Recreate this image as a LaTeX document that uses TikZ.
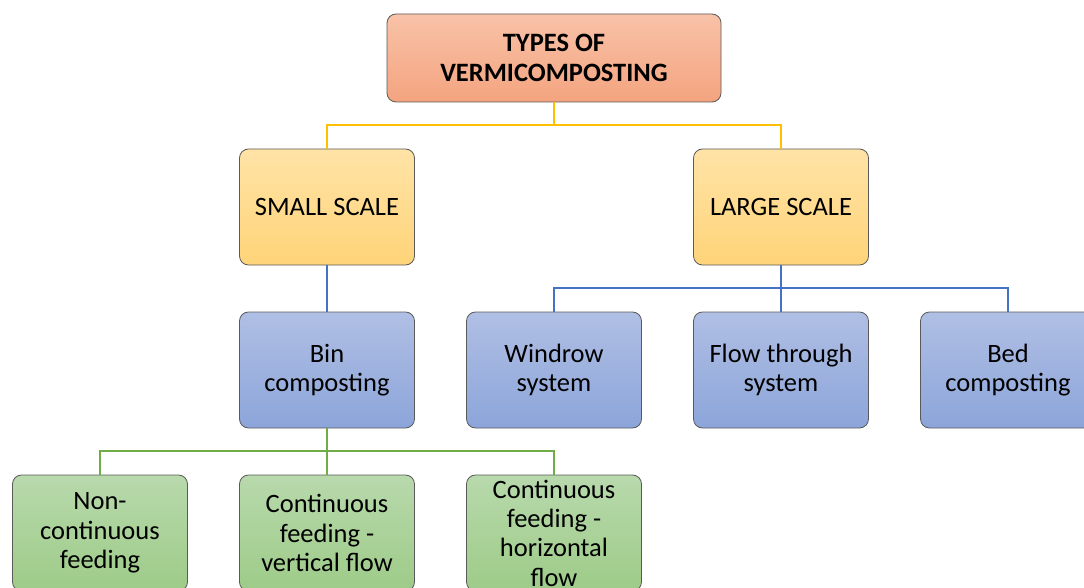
\documentclass[tikz,border=0pt]{standalone}
\usepackage{fontspec}
\setmainfont{Carlito}
\definecolor{topA}{HTML}{F8C2A8}
\definecolor{topB}{HTML}{F4A47F}
\definecolor{yelA}{HTML}{FFE3A6}
\definecolor{yelB}{HTML}{FFD479}
\definecolor{bluA}{HTML}{B0BFE4}
\definecolor{bluB}{HTML}{8CA5DA}
\definecolor{grnA}{HTML}{B8D9AC}
\definecolor{grnB}{HTML}{9DCB88}
\definecolor{edge}{HTML}{5A5A5A}
\definecolor{lnY}{HTML}{FFC000}
\definecolor{lnB}{HTML}{4472C4}
\definecolor{lnG}{HTML}{70AD47}
\tikzset{
  box/.style={rectangle, rounded corners=9pt, draw=edge, line width=0.8pt,
    minimum width=175pt, minimum height=116pt, inner sep=0pt, align=center,
    font=\fontsize{26.5}{29.3}\selectfont, text=black},
  topbox/.style={box, top color=topA, bottom color=topB, minimum width=334pt, minimum height=88pt,
    font=\fontsize{26.5}{29.3}\selectfont\bfseries},
  ybox/.style={box, top color=yelA, bottom color=yelB},
  bbox/.style={box, top color=bluA, bottom color=bluB},
  gbox/.style={box, top color=grnA, bottom color=grnB},
  conY/.style={draw=lnY, line width=2pt},
  conB/.style={draw=lnB, line width=2pt},
  conG/.style={draw=lnG, line width=2pt},
}
\begin{document}
\begin{tikzpicture}[x=1pt,y=-1pt]
\clip (0,0) rectangle (1084,588);
\fill[white] (0,0) rectangle (1084,588);
\node[topbox] (top) at (554,58) {TYPES OF\\VERMICOMPOSTING};
\node[ybox] (small) at (327,207) {SMALL SCALE};
\node[ybox] (large) at (781,207) {LARGE SCALE};
\node[bbox] (bin) at (327,370) {Bin\\composting};
\node[bbox] (wind) at (554,370) {Windrow\\system};
\node[bbox] (flow) at (781,370) {Flow through\\system};
\node[bbox] (bed) at (1008,370) {Bed\\composting};
\node[gbox] (non) at (100,533) {Non-\\continuous\\feeding};
\node[gbox] (vert) at (327,533) {Continuous\\feeding -\\vertical flow};
\node[gbox] (hor) at (554,533) {Continuous\\feeding -\\horizontal\\flow};
% yellow connectors
\path (top.south) ++(0,23) coordinate (jy);
\draw[conY] (top.south) -- (jy);
\draw[conY] (jy) -| (small.north);
\draw[conY] (jy) -| (large.north);
% blue connectors
\draw[conB] (small.south) -- (bin.north);
\path (large.south) ++(0,23) coordinate (jb);
\draw[conB] (large.south) -- (flow.north);
\draw[conB] (jb) -| (wind.north);
\draw[conB] (jb) -| (bed.north);
% green connectors
\path (bin.south) ++(0,23) coordinate (jg);
\draw[conG] (bin.south) -- (vert.north);
\draw[conG] (jg) -| (non.north);
\draw[conG] (jg) -| (hor.north);
\end{tikzpicture}
\end{document}
